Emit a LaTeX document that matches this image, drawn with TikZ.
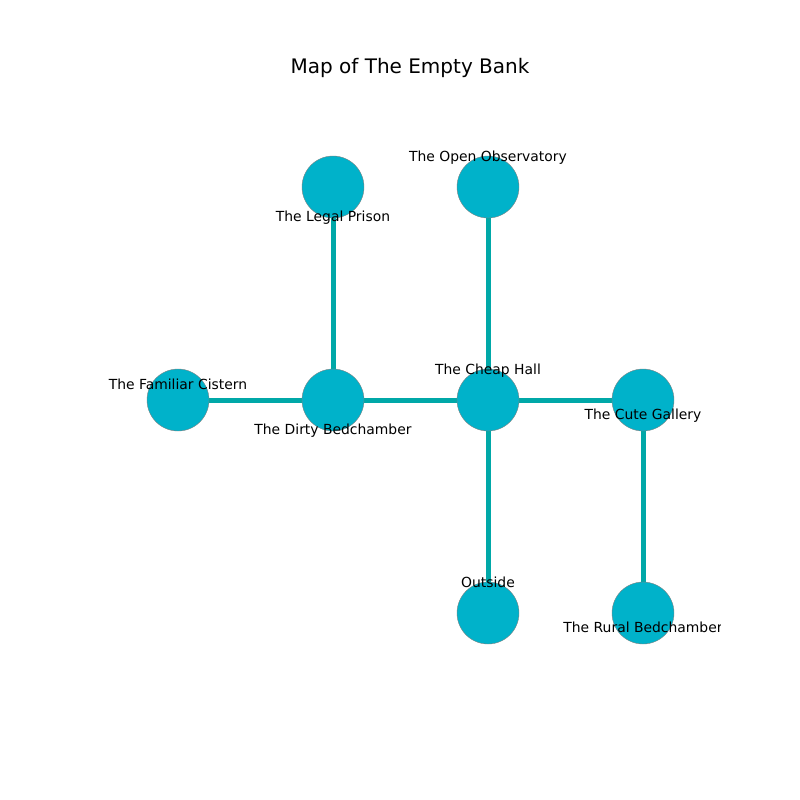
\documentclass[tikz,border=0pt]{standalone}
\usepackage{fontspec}
\setmainfont{DejaVu Sans}
\definecolor{nodefill}{HTML}{00B2CA}
\definecolor{edgecol}{HTML}{00A8A8}
\tikzset{
  room/.style={circle, fill=nodefill, draw=gray, line width=0.4pt, minimum size=62pt, inner sep=0pt},
  link/.style={draw=edgecol, line width=5pt},
  lbl/.style={font=\fontsize{13.9}{16}\selectfont, inner sep=0pt, anchor=base},
}
\begin{document}
\begin{tikzpicture}[x=1pt,y=-1pt]
\useasboundingbox (0,0) rectangle (800,800);
\node[font=\fontsize{20}{24}\selectfont] (title) at (410,68) {Map of The Empty Bank};
\coordinate (lp) at (333,187);
\coordinate (oo) at (488,187);
\coordinate (fc) at (178,400);
\coordinate (db) at (333,400);
\coordinate (ch) at (488,400);
\coordinate (cg) at (643,400);
\coordinate (out) at (488,613);
\coordinate (rb) at (643,613);
\draw[link] (lp) -- (db);
\draw[link] (fc) -- (db);
\draw[link] (db) -- (ch);
\draw[link] (oo) -- (ch);
\draw[link] (ch) -- (cg);
\draw[link] (ch) -- (out);
\draw[link] (cg) -- (rb);
\node[room] (nlp) at (lp) {};
\node[room] (noo) at (oo) {};
\node[room] (nfc) at (fc) {};
\node[room] (ndb) at (db) {};
\node[room] (nch) at (ch) {};
\node[room] (ncg) at (cg) {};
\node[room] (nout) at (out) {};
\node[room] (nrb) at (rb) {};
\begin{scope}
\clip (100,80) rectangle (720,704);
\node[lbl] (tlp) at (333,221) {The Legal Prison};
\node[lbl] (too) at (488,161) {The Open Observatory};
\node[lbl] (tfc) at (178,389) {The Familiar Cistern};
\node[lbl] (tdb) at (333,434) {The Dirty Bedchamber};
\node[lbl] (tch) at (488,374) {The Cheap Hall};
\node[lbl] (tcg) at (643,419) {The Cute Gallery};
\node[lbl] (tout) at (488,587) {Outside};
\node[lbl] (trb) at (643,632) {The Rural Bedchamber};
\end{scope}
\end{tikzpicture}
\end{document}
